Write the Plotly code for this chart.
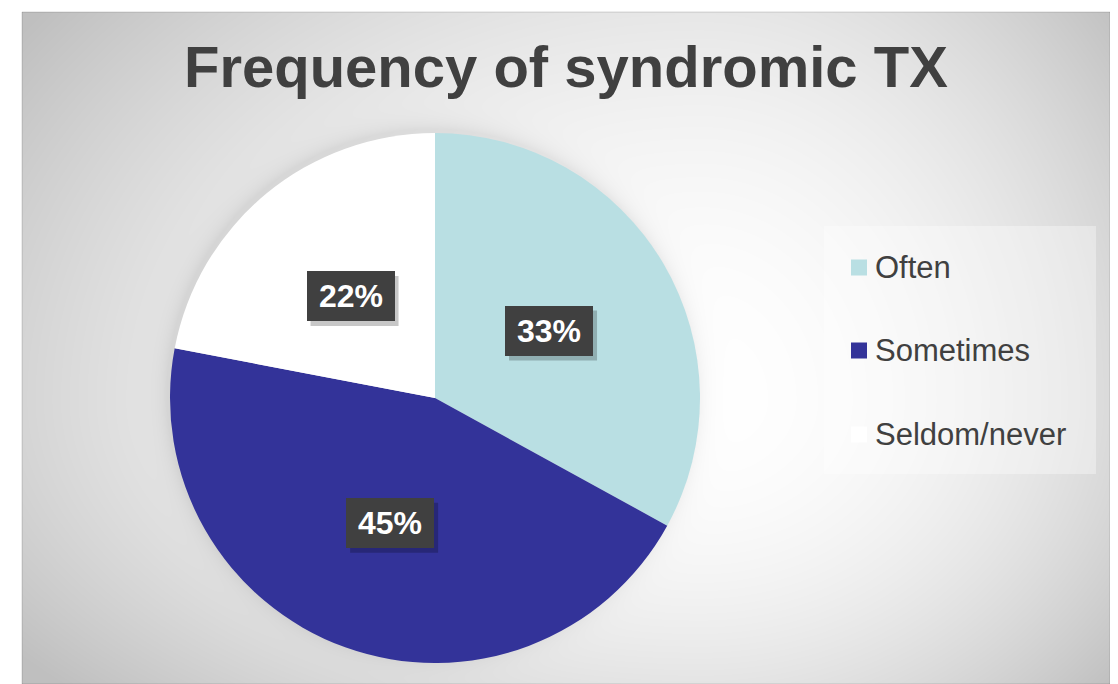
import base64, zlib, struct, math
import numpy as np
import plotly.graph_objects as go

# ---- data ----
labels = ["Often", "Sometimes", "Seldom/never"]
values = [33, 45, 22]
colors = ["#b9dfe3", "#333399", "#ffffff"]
title_text = "Frequency of syndromic TX"

# page body has an 8px margin; figure laid out in screen pixels minus that offset
OFF = 8
W, H = 1118 - OFF, 684 - OFF

def PX(x):
    return (x - OFF) / W

def PY(y):
    return 1 - (y - OFF) / H

# ---- background gradient image (frame decoration) ----
fx0, fy0, fx1, fy1 = 22, 12, 1110, 684
iw, ih = fx1 - fx0, fy1 - fy0
xs = np.arange(iw)[None, :] + fx0 + 0.5
ys = np.arange(ih)[:, None] + fy0 + 0.5
cx, cy = 700.0, 400.0
rx = np.where(xs < cx, 800.0, 520.0)
ry = np.where(ys < cy, 600.0, 420.0)
t = np.sqrt(((xs - cx) / rx) ** 2 + ((ys - cy) / ry) ** 2)
t = np.clip(t, 0, 1.05)
val = 255.0 - 58.0 * t ** 2
# soft shadow around the pie
pcx, pcy, pr = 435.0 - 3, 398.0 - 4, 265.0
d = np.sqrt((xs - pcx) ** 2 + (ys - pcy) ** 2) - pr
val = val - 16.0 * np.exp(-np.clip(d, 0, None) / 9.0)
val = np.clip(val, 0, 255).astype(np.uint8)
img = np.repeat(val[:, :, None], 3, axis=2)

def png_bytes(arr):
    h, w, _ = arr.shape
    raw = b"".join(b"\x00" + arr[i].tobytes() for i in range(h))
    def chunk(tag, data):
        c = struct.pack(">I", len(data)) + tag + data
        return c + struct.pack(">I", zlib.crc32(tag + data) & 0xFFFFFFFF)
    return (b"\x89PNG\r\n\x1a\n" + chunk(b"IHDR", struct.pack(">IIBBBBB", w, h, 8, 2, 0, 0, 0))
            + chunk(b"IDAT", zlib.compress(raw, 9)) + chunk(b"IEND", b""))

uri = "data:image/png;base64," + base64.b64encode(png_bytes(img)).decode()

# ---- pie ----
pie_x = [PX(170), PX(700)]
pie_y = [PY(663), PY(133)]

fig = go.Figure(go.Pie(
    labels=labels, values=values, sort=False, direction="clockwise", rotation=0,
    marker=dict(colors=colors, line=dict(width=0)), textinfo="none",
    domain=dict(x=pie_x, y=pie_y), showlegend=False,
    hovertemplate="%{label}: %{value}%<extra></extra>",
))

annotations = []
shapes = []

# percentage labels at half radius along slice mid-angle
pcx_p = (pie_x[0] + pie_x[1]) / 2
pcy_p = (pie_y[0] + pie_y[1]) / 2
R_px = (700 - 170) / 2
tot = sum(values)
cum = 0
for v in values:
    mid = (cum + v / 2) / tot * 2 * math.pi
    cum += v
    ax = pcx_p + 0.5 * R_px * math.sin(mid) / W
    ay = pcy_p + 0.5 * R_px * math.cos(mid) / H
    txt = f"<b>{round(v / tot * 100)}%</b>"
    # drop shadow of the label box
    shapes.append(dict(type="rect", xref="paper", yref="paper",
                       xsizemode="pixel", ysizemode="pixel", xanchor=ax, yanchor=ay,
                       x0=-44 + 4, x1=44 + 4, y0=-25 - 5, y1=25 - 5,
                       fillcolor="rgba(0,0,0,0.22)", line=dict(width=0)))
    annotations.append(dict(x=ax, y=ay, xref="paper", yref="paper", text=txt, showarrow=False,
                            xanchor="center", yanchor="middle",
                            width=88, height=50, borderpad=0, borderwidth=0,
                            bgcolor="#404040",
                            font=dict(family="Liberation Sans, Arial", size=32, color="white")))

# title
annotations.append(dict(x=PX(566), y=PY(67), xref="paper", yref="paper", showarrow=False,
                        text=f"<b>{title_text}</b>", xanchor="center", yanchor="middle",
                        font=dict(family="Liberation Sans, Arial", size=58, color="#404040")))

# legend
shapes.append(dict(type="rect", xref="paper", yref="paper", x0=PX(824), x1=PX(1096), y0=PY(474), y1=PY(226),
                   fillcolor="rgba(255,255,255,0.35)", line=dict(width=0), layer="below"))
leg_y = [267.5, 350.5, 434.5]
for lab, col, ly in zip(labels, colors, leg_y):
    shapes.append(dict(type="rect", xref="paper", yref="paper", x0=PX(851), x1=PX(867),
                       y0=PY(ly + 8), y1=PY(ly - 8), fillcolor=col, line=dict(width=0)))
    annotations.append(dict(x=PX(873), y=PY(ly), xref="paper", yref="paper", showarrow=False,
                            text=lab, xanchor="left", yanchor="middle",
                            font=dict(family="Liberation Sans, Arial", size=31, color="#404040")))

# frame outline
shapes.append(dict(type="rect", xref="paper", yref="paper", x0=PX(fx0), x1=PX(fx1), y0=PY(fy1), y1=PY(fy0),
                   line=dict(color="rgba(0,0,0,0.15)", width=1), layer="below"))

fig.update_layout(
    width=W, height=H, margin=dict(l=0, r=0, t=0, b=0),
    paper_bgcolor="white", plot_bgcolor="white",
    images=[dict(source=uri, xref="paper", yref="paper", x=PX(fx0), y=PY(fy0),
                 sizex=(fx1 - fx0) / W, sizey=(fy1 - fy0) / H, sizing="stretch",
                 xanchor="left", yanchor="top", layer="below")],
    annotations=annotations, shapes=shapes,
)
fig.write_html("out.html")
